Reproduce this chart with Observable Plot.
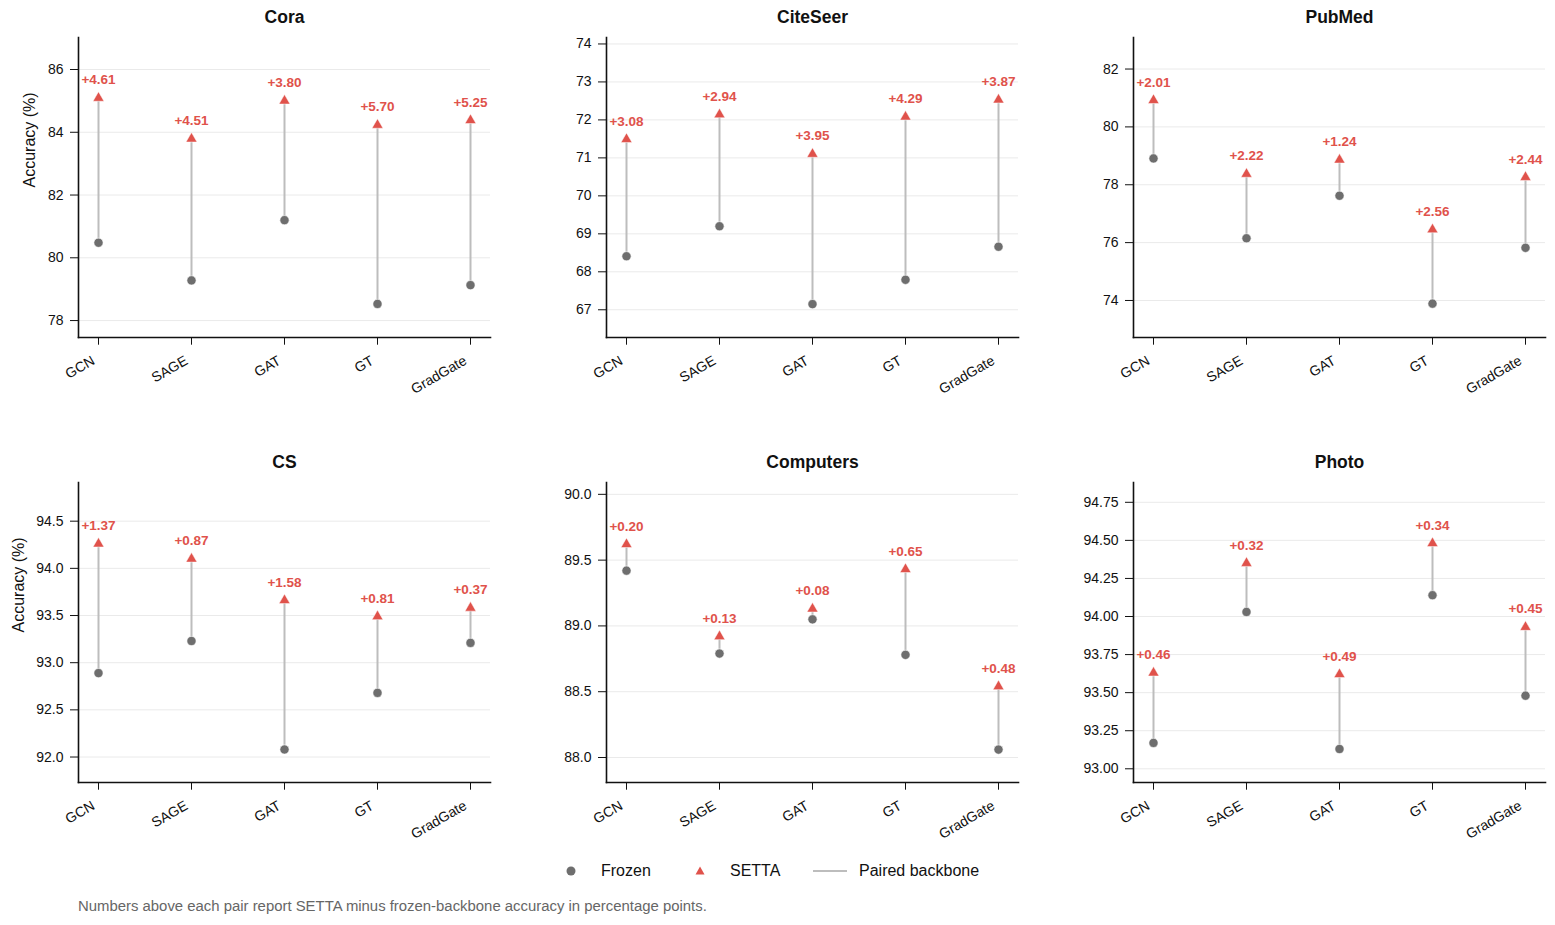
<!DOCTYPE html>
<html>
<head>
<meta charset="utf-8">
<script src="https://cdn.jsdelivr.net/npm/d3@7"></script>
<script src="https://cdn.jsdelivr.net/npm/@observablehq/plot@0.6"></script>
<style>
  html, body { margin: 0; padding: 0; background: #fff; }
  body { font-family: "Liberation Sans", Arial, sans-serif; }
  #root { position: relative; width: 1555px; height: 925px; }
  .panel { position: absolute; }
  .legend { position: absolute; top: 860px; font-size: 16px; color: #111; line-height: 22px; }
  .caption { position: absolute; left: 78px; top: 898px; font-size: 14.9px; color: #666; }
</style>
</head>
<body>
<div id="root"></div>
<script>
// ---- data ----
const models = ["GCN", "SAGE", "GAT", "GT", "GradGate"];
const datasets = ["Cora", "CiteSeer", "PubMed", "CS", "Computers", "Photo"];

const coraFrozen = [80.48, 79.28, 81.20, 78.53, 79.13];
const coraGain = [4.61, 4.51, 3.80, 5.70, 5.25];
const citeseerFrozen = [68.41, 69.20, 67.15, 67.79, 68.66];
const citeseerGain = [3.08, 2.94, 3.95, 4.29, 3.87];
const pubmedFrozen = [78.91, 76.15, 77.62, 73.89, 75.82];
const pubmedGain = [2.01, 2.22, 1.24, 2.56, 2.44];
const csFrozen = [92.89, 93.23, 92.08, 92.68, 93.21];
const csGain = [1.37, 0.87, 1.58, 0.81, 0.37];
const computersFrozen = [89.42, 88.79, 89.05, 88.78, 88.06];
const computersGain = [0.20, 0.13, 0.08, 0.65, 0.48];
const photoFrozen = [93.17, 94.03, 93.13, 94.14, 93.48];
const photoGain = [0.46, 0.32, 0.49, 0.34, 0.45];

const coraTicks = [78, 80, 82, 84, 86];
const citeseerTicks = [67, 68, 69, 70, 71, 72, 73, 74];
const pubmedTicks = [74, 76, 78, 80, 82];
const csTicks = [92.0, 92.5, 93.0, 93.5, 94.0, 94.5];
const computersTicks = [88.0, 88.5, 89.0, 89.5, 90.0];
const photoTicks = [93.00, 93.25, 93.50, 93.75, 94.00, 94.25, 94.50, 94.75];

const yLabel = "Accuracy (%)";
const legendLabels = ["Frozen", "SETTA", "Paired backbone"];
const captionText = "Numbers above each pair report SETTA minus frozen-backbone accuracy in percentage points.";

// ---- styles ----
const RED = "#e0524b";
const GRAY = "#6e6e6e";
const LINE = "#bdbdbd";
const FONT = "'Liberation Sans', Arial, sans-serif";

const panels = [
  {frozen: coraFrozen, gain: coraGain, ticks: coraTicks, domain: [77.46, 87.02], fmt: d3.format("d"), labelDx: -49},
  {frozen: citeseerFrozen, gain: citeseerGain, ticks: citeseerTicks, domain: [66.27, 74.17], fmt: d3.format("d")},
  {frozen: pubmedFrozen, gain: pubmedGain, ticks: pubmedTicks, domain: [72.72, 83.09], fmt: d3.format("d")},
  {frozen: csFrozen, gain: csGain, ticks: csTicks, domain: [91.73, 94.91], fmt: d3.format(".1f"), labelDx: -60},
  {frozen: computersFrozen, gain: computersGain, ticks: computersTicks, domain: [87.81, 90.09], fmt: d3.format(".1f")},
  {frozen: photoFrozen, gain: photoGain, ticks: photoTicks, domain: [92.91, 94.88], fmt: d3.format(".2f")}
];

const colLeft = [0, 520, 1040];
const colMarginLeft = [78, 86, 93];
const rowTop = [0, 440];
const rowMarginTop = [37, 42];
const frameW = 412, frameH = 300;

const root = document.getElementById("root");

panels.forEach((p, i) => {
  const col = i % 3, row = Math.floor(i / 3);
  const rows = models.map((m, j) => ({
    model: m,
    frozen: p.frozen[j],
    gain: p.gain[j],
    setta: +(p.frozen[j] + p.gain[j]).toFixed(2)
  }));
  const mL = colMarginLeft[col], mT = rowMarginTop[row];
  const width = mL + frameW + 12;
  const height = mT + frameH + 80;
  const marks = [
    Plot.gridY(p.ticks, {stroke: "#eaeaea", strokeOpacity: 1, strokeWidth: 1}),
    Plot.axisY({ticks: p.ticks, tickFormat: p.fmt, tickSize: 8, tickPadding: 7, stroke: "#111",
      label: null, fontSize: 14}),
    Plot.axisX({tickSize: 7.7, tickFormat: () => "", label: null, stroke: "#111"}),
    Plot.axisX({tickSize: 0, tickPadding: 22, tickRotate: -30, dx: -5, label: null, fontSize: 14}),
    Plot.frame({anchor: "left", stroke: "#111", strokeWidth: 1.6}),
    Plot.frame({anchor: "bottom", stroke: "#111", strokeWidth: 1.6}),
    Plot.ruleX(rows, {x: "model", y1: "frozen", y2: "setta", stroke: LINE, strokeWidth: 2}),
    Plot.dot(rows, {x: "model", y: "frozen", fill: GRAY, r: 4.6, stroke: "white", strokeWidth: 0.6}),
    Plot.dot(rows, {x: "model", y: "setta", symbol: "triangle", fill: RED, r: 4.1, stroke: "white", strokeWidth: 0.5}),
    Plot.text(rows, {x: "model", y: "setta", text: d => "+" + d.gain.toFixed(2), dy: -18,
      fill: RED, fontWeight: "bold", fontSize: 13.5}),
    Plot.text([datasets[i]], {frameAnchor: "top", lineAnchor: "middle", dy: -20.5, fontSize: 17.5, fontWeight: "bold", fill: "#111"})
  ];
  if (col === 0) {
    marks.push(Plot.text([yLabel], {frameAnchor: "left", dx: p.labelDx, rotate: -90, fontSize: 16, fill: "#111"}));
  }
  const chart = Plot.plot({
    width, height,
    marginLeft: mL, marginRight: 12, marginTop: mT, marginBottom: height - mT - frameH,
    style: {fontFamily: FONT, fontSize: "14px", color: "#111", background: "transparent"},
    x: {type: "point", domain: models, padding: 0.2, label: null},
    y: {domain: p.domain, label: null},
    marks
  });
  chart.classList.add("panel");
  chart.style.left = colLeft[col] + "px";
  chart.style.top = rowTop[row] + "px";
  chart.style.overflow = "visible";
  root.appendChild(chart);
});

// legend
function addEl(html, left) {
  const d = document.createElement("div");
  d.className = "legend";
  d.style.left = left + "px";
  d.innerHTML = html;
  root.appendChild(d);
}
addEl(`<svg width="12" height="22" style="display:block"><circle cx="6" cy="11" r="4.5" fill="${GRAY}"/></svg>`, 565);
addEl(legendLabels[0], 601);
addEl(`<svg width="12" height="22" style="display:block"><path d="M6,6.5 L10.5,14.5 L1.5,14.5 Z" fill="${RED}"/></svg>`, 694);
addEl(legendLabels[1], 730);
addEl(`<svg width="34" height="22" style="display:block"><line x1="0" x2="34" y1="11" y2="11" stroke="${LINE}" stroke-width="2"/></svg>`, 813);
addEl(legendLabels[2], 859);

const cap = document.createElement("div");
cap.className = "caption";
cap.textContent = captionText;
root.appendChild(cap);
</script>
</body>
</html>
